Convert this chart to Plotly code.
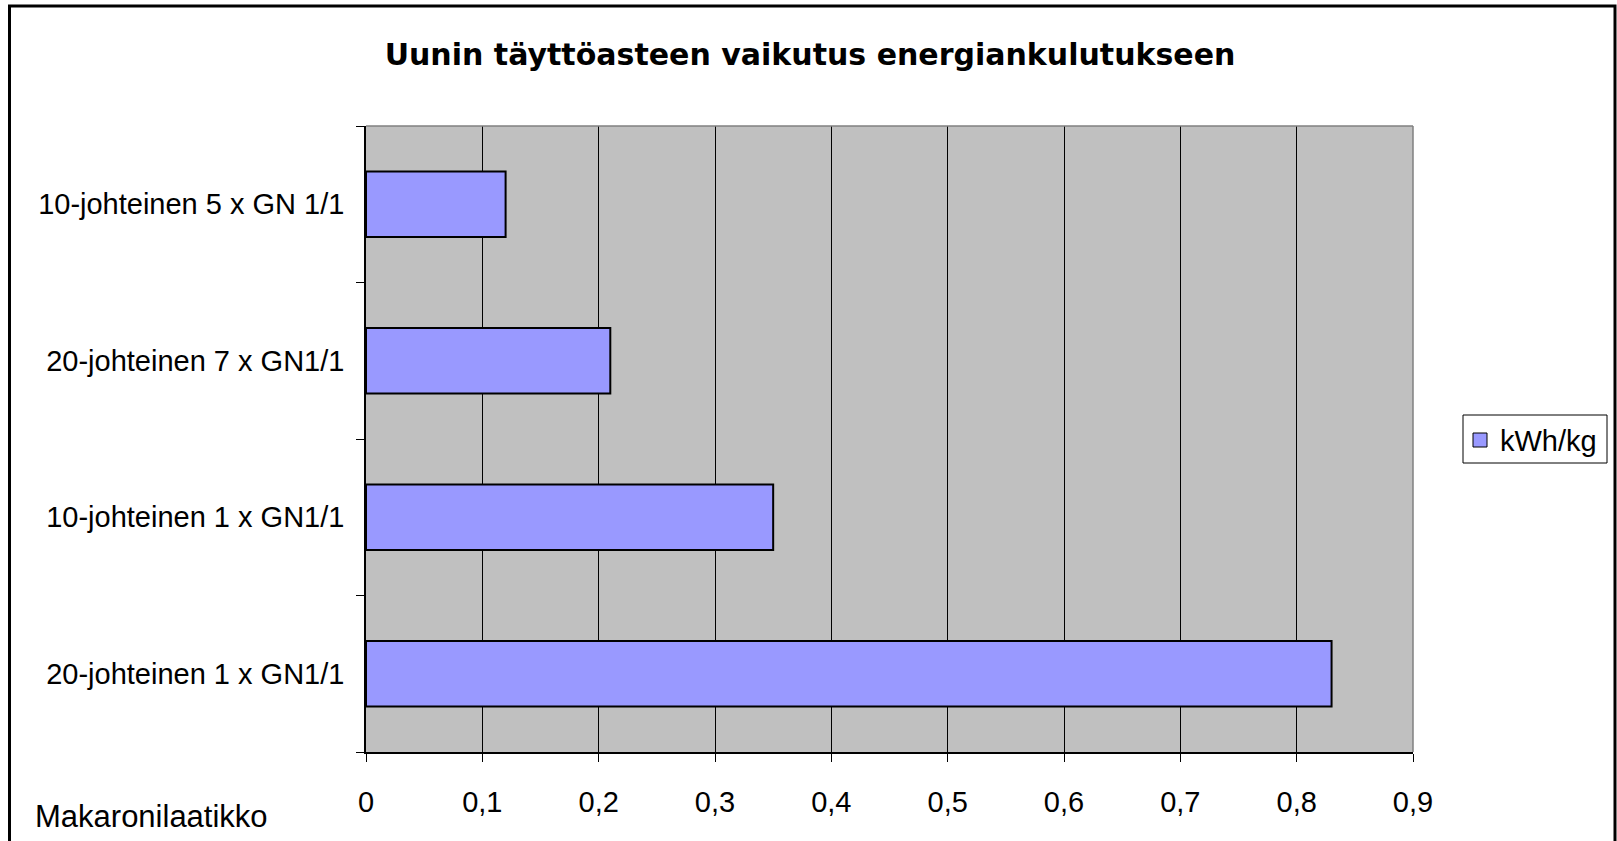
import plotly.graph_objects as go

categories = [
    "20-johteinen 1 x GN1/1",
    "10-johteinen 1 x GN1/1",
    "20-johteinen 7 x GN1/1",
    "10-johteinen 5 x GN 1/1",
]
values_kwh_per_kg = [0.83, 0.35, 0.21, 0.12]
series_name = "kWh/kg"
title_text = "Uunin täyttöasteen vaikutus energiankulutukseen"
axis_title = "Makaronilaatikko"

BAR_COLOR = "#9999FF"

W, H = 1617, 841
L, R, T, B = 366, 204, 126, 89
pw, ph = W - L - R, H - T - B

def px_x(x):
    return (x - L) / pw

def px_y(y):
    return (H - B - y) / ph

fig = go.Figure()
fig.add_trace(go.Bar(
    x=values_kwh_per_kg,
    y=categories,
    orientation="h",
    name=series_name,
    marker=dict(color=BAR_COLOR, line=dict(color="black", width=2)),
    showlegend=False,
))

fig.update_layout(
    width=W, height=H,
    margin=dict(l=L, r=R, t=T, b=B, autoexpand=False),
    paper_bgcolor="white",
    plot_bgcolor="#C0C0C0",
    separators=", ",
    bargap=0.58,
    font=dict(family="Liberation Sans, Arial, sans-serif", size=29, color="black"),
    title=dict(
        text="<b>" + title_text + "</b>",
        font=dict(family="DejaVu Sans, sans-serif", size=30, color="black"),
        x=810 / W, xref="container", xanchor="center",
        y=1 - 54 / H, yref="container", yanchor="middle",
    ),
    showlegend=False,
)

fig.update_xaxes(
    range=[0, 0.9], dtick=0.1, tick0=0,
    showgrid=True, gridcolor="black", gridwidth=1,
    zeroline=False,
    showline=True, linecolor="black", linewidth=1.5,
    ticks="outside", ticklen=8, tickcolor="black", tickwidth=1,
    ticklabelstandoff=15,
)
fig.update_yaxes(
    type="category",
    categoryorder="array", categoryarray=categories,
    tickson="boundaries",
    showgrid=False,
    showline=True, linecolor="black", linewidth=1.5,
    ticks="outside", ticklen=8, tickcolor="black", tickwidth=1,
    ticklabelstandoff=14,
)

# gray top/right border of plot area
fig.add_shape(type="line", xref="paper", yref="paper", x0=0, x1=1, y0=1, y1=1,
              line=dict(color="#808080", width=1.5), layer="above")
fig.add_shape(type="line", xref="paper", yref="paper", x0=1, x1=1, y0=0, y1=1,
              line=dict(color="#808080", width=1.5), layer="above")

# outer chart frame
fig.add_shape(type="rect", xref="paper", yref="paper",
              x0=px_x(9.5), x1=px_x(1615), y0=px_y(860), y1=px_y(6),
              line=dict(color="black", width=3), fillcolor="rgba(0,0,0,0)", layer="above")

# legend box (drawn manually to match the compact Excel legend)
fig.add_shape(type="rect", xref="paper", yref="paper",
              x0=px_x(1463), x1=px_x(1607), y0=px_y(463), y1=px_y(415),
              line=dict(color="black", width=1), fillcolor="white", layer="above")
fig.add_shape(type="rect", xref="paper", yref="paper",
              x0=px_x(1473), x1=px_x(1487), y0=px_y(447), y1=px_y(433),
              line=dict(color="black", width=1), fillcolor=BAR_COLOR, layer="above")
fig.add_annotation(
    text=series_name, xref="paper", yref="paper",
    x=px_x(1498), y=px_y(441), xanchor="left", yanchor="middle",
    showarrow=False, font=dict(size=29),
)

fig.add_annotation(
    text=axis_title, xref="paper", yref="paper",
    x=px_x(33), y=px_y(816), xanchor="left", yanchor="middle",
    showarrow=False, font=dict(size=31),
)

fig.write_html("out.html", config={"displayModeBar": False},
               post_script="document.body.style.margin='0';")
